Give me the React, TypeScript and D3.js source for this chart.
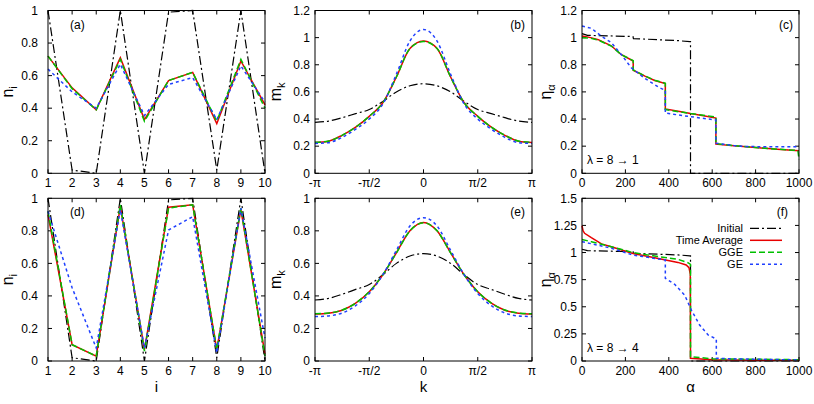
import React, { useEffect, useRef } from "react";
import * as d3 from "d3";

// site occupations n_i (panels a, d)
const sites = [1, 2, 3, 4, 5, 6, 7, 8, 9, 10];
const siteInitial = [1.0, 0.02, 0.0, 1.0, 0.0, 0.99, 1.0, 0.02, 1.0, 0.0];
const siteTimeAvg1 = [0.72, 0.525, 0.39, 0.71, 0.33, 0.57, 0.62, 0.305, 0.69, 0.42];
const siteGGE1 = [0.72, 0.52, 0.39, 0.7, 0.32, 0.57, 0.62, 0.32, 0.7, 0.4];
const siteGE1 = [0.64, 0.5, 0.4, 0.67, 0.355, 0.546, 0.588, 0.33, 0.66, 0.437];
const siteTimeAvg4 = [0.9, 0.1, 0.03, 0.95, 0.07, 0.945, 0.96, 0.07, 0.93, 0.04];
const siteGGE4 = [0.92, 0.1, 0.03, 0.96, 0.06, 0.94, 0.96, 0.07, 0.94, 0.03];
const siteGE4 = [0.92, 0.45, 0.08, 0.93, 0.08, 0.805, 0.887, 0.05, 0.94, 0.14];

// momentum distribution m_k, k in units of pi (panels b, e)
const kPi = [-1, -0.875, -0.75, -0.625, -0.5, -0.375, -0.25, -0.125, 0, 0.125, 0.25, 0.375, 0.5, 0.625, 0.75, 0.875, 1];
const momInitial = [0.375, 0.385, 0.41, 0.44, 0.47, 0.53, 0.6, 0.645, 0.66, 0.645, 0.6, 0.53, 0.47, 0.44, 0.41, 0.385, 0.375];
const momTimeAvg1 = [0.227, 0.237, 0.28, 0.34, 0.42, 0.52, 0.71, 0.92, 0.975, 0.92, 0.71, 0.52, 0.42, 0.34, 0.28, 0.237, 0.227];
const momGGE1 = [0.228, 0.238, 0.28, 0.34, 0.42, 0.52, 0.71, 0.92, 0.972, 0.92, 0.71, 0.52, 0.42, 0.34, 0.28, 0.238, 0.228];
const momGE1 = [0.22, 0.226, 0.265, 0.325, 0.4, 0.51, 0.73, 0.975, 1.06, 0.975, 0.73, 0.51, 0.4, 0.325, 0.265, 0.226, 0.22];
const momTimeAvg4 = [0.289, 0.294, 0.312, 0.355, 0.425, 0.53, 0.665, 0.8, 0.852, 0.8, 0.665, 0.53, 0.425, 0.355, 0.312, 0.294, 0.289];
const momGGE4 = [0.29, 0.295, 0.313, 0.356, 0.426, 0.53, 0.664, 0.8, 0.85, 0.8, 0.664, 0.53, 0.426, 0.356, 0.313, 0.295, 0.29];
const momGE4 = [0.273, 0.277, 0.295, 0.34, 0.415, 0.53, 0.68, 0.83, 0.881, 0.83, 0.68, 0.53, 0.415, 0.34, 0.295, 0.277, 0.273];

// natural orbital occupations eta_alpha (panels c, f), [alpha, eta]
const natInitial = [[0, 1.03], [25, 1.017], [235, 1.008], [237, 0.993], [442, 0.978], [497, 0.97], [500, 0.97], [500, 0], [1000, 0]];
const natTimeAvg1 = [[0, 1.012], [40, 1.0], [75, 0.985], [135, 0.94], [180, 0.876], [236, 0.828], [236, 0.76], [290, 0.716], [335, 0.684], [384, 0.661], [384, 0.474], [450, 0.455], [500, 0.44], [560, 0.425], [617, 0.407], [617, 0.215], [700, 0.203], [800, 0.19], [900, 0.178], [1000, 0.167]];
const natGGE1 = [[0, 1.0], [40, 0.995], [75, 0.982], [135, 0.938], [180, 0.876], [236, 0.83], [236, 0.762], [290, 0.718], [335, 0.686], [384, 0.664], [384, 0.47], [450, 0.453], [500, 0.44], [560, 0.428], [617, 0.415], [617, 0.218], [700, 0.204], [800, 0.19], [900, 0.178], [995, 0.168], [1000, 0.1]];
const natGE1 = [[0, 1.086], [43, 1.069], [90, 1.01], [135, 0.963], [181, 0.876], [227, 0.778], [289, 0.7], [358, 0.63], [384, 0.612], [384, 0.444], [488, 0.42], [617, 0.393], [617, 0.222], [700, 0.205], [750, 0.197], [1000, 0.195]];
const natTimeAvg4 = [[0, 1.247], [5, 1.2], [12, 1.177], [43, 1.137], [90, 1.08], [135, 1.054], [235, 0.992], [335, 0.952], [442, 0.909], [480, 0.885], [493, 0.86], [499, 0.8], [500, 0.025], [600, 0.012], [800, 0.008], [1000, 0.006]];
const natGGE4 = [[0, 1.12], [43, 1.1], [135, 1.054], [235, 1.0], [335, 0.968], [442, 0.937], [488, 0.906], [500, 0.89], [500, 0.04], [600, 0.02], [1000, 0.012]];
const natGE4 = [[0, 1.1], [135, 1.04], [235, 0.977], [335, 0.946], [384, 0.931], [384, 0.762], [427, 0.707], [473, 0.608], [504, 0.47], [542, 0.332], [581, 0.24], [619, 0.203], [619, 0.025], [700, 0.02], [1000, 0.01]];

const legendNames = ["Initial", "Time Average", "GGE", "GE"];

const W = 814, H = 404;
const cols = [[48, 265], [315, 532], [582, 799]];
const rows = [[10.5, 173.3], [198.3, 361]];
const font = "'Liberation Sans', Arial, Helvetica, sans-serif";

const styles = [
  { stroke: "#000000", dash: "9,3,2,3", width: 1.2 },
  { stroke: "#e80000", dash: null, width: 1.5 },
  { stroke: "#00c000", dash: "6,3", width: 1.5 },
  { stroke: "#2040ff", dash: "3,3", width: 1.5 },
];

const zipPts = (xs, ys) => xs.map((x, i) => [x, ys[i]]);

const App = () => {
  const svgRef = useRef(null);

  useEffect(() => {
    const svg = d3.select(svgRef.current);
    svg.selectAll("*").remove();

    const siteTicks = sites;
    const piTicks = [-1, -0.5, 0, 0.5, 1];
    const piLabels = ["-π", "-π/2", "0", "π/2", "π"];
    const alphaTicks = [0, 200, 400, 600, 800, 1000];
    const y10 = [0, 0.2, 0.4, 0.6, 0.8, 1];
    const y12 = [0, 0.2, 0.4, 0.6, 0.8, 1, 1.2];
    const y15 = [0, 0.25, 0.5, 0.75, 1, 1.25, 1.5];

    const panels = [
      { col: 0, row: 0, xd: [1, 10], yd: [0, 1], xt: siteTicks, xl: siteTicks.map(String), yt: y10, curve: d3.curveLinear,
        series: [siteInitial, siteTimeAvg1, siteGGE1, siteGE1].map((s) => zipPts(sites, s)), tag: "(a)" },
      { col: 1, row: 0, xd: [-1, 1], yd: [0, 1.2], xt: piTicks, xl: piLabels, yt: y12, curve: d3.curveMonotoneX,
        series: [momInitial, momTimeAvg1, momGGE1, momGE1].map((s) => zipPts(kPi, s)), tag: "(b)" },
      { col: 2, row: 0, xd: [0, 1000], yd: [0, 1.2], xt: alphaTicks, xl: alphaTicks.map(String), yt: y12, curve: d3.curveLinear,
        series: [natInitial, natTimeAvg1, natGGE1, natGE1], tag: "(c)", lambda: "λ = 8 → 1" },
      { col: 0, row: 1, xd: [1, 10], yd: [0, 1], xt: siteTicks, xl: siteTicks.map(String), yt: y10, curve: d3.curveLinear,
        series: [siteInitial, siteTimeAvg4, siteGGE4, siteGE4].map((s) => zipPts(sites, s)), tag: "(d)" },
      { col: 1, row: 1, xd: [-1, 1], yd: [0, 1], xt: piTicks, xl: piLabels, yt: y10, curve: d3.curveMonotoneX,
        series: [momInitial, momTimeAvg4, momGGE4, momGE4].map((s) => zipPts(kPi, s)), tag: "(e)" },
      { col: 2, row: 1, xd: [0, 1000], yd: [0, 1.5], xt: alphaTicks, xl: alphaTicks.map(String), yt: y15, curve: d3.curveLinear,
        series: [natInitial, natTimeAvg4, natGGE4, natGE4], tag: "(f)", lambda: "λ = 8 → 4", legend: true },
    ];

    const yNames = [["n", "i"], ["m", "k"], ["η", "α"]];
    const yNameX = [13, 281, 551];
    const xNames = ["i", "k", "α"];
    const tickGap = [10, 5, 5];

    panels.forEach((p) => {
      const [x0, x1] = cols[p.col];
      const [y0, y1] = rows[p.row];
      const x = d3.scaleLinear().domain(p.xd).range([x0, x1]);
      const y = d3.scaleLinear().domain(p.yd).range([y1, y0]);
      const g = svg.append("g");

      // inward ticks on all four sides
      p.xt.forEach((t, i) => {
        g.append("line").attr("x1", x(t)).attr("x2", x(t)).attr("y1", y1).attr("y2", y1 - 4).attr("stroke", "#000");
        g.append("line").attr("x1", x(t)).attr("x2", x(t)).attr("y1", y0).attr("y2", y0 + 4).attr("stroke", "#000");
        g.append("text").attr("x", x(t)).attr("y", y1 + 13.5).attr("text-anchor", "middle")
          .style("font-family", font).style("font-size", "12px").text(p.xl[i]);
      });
      p.yt.forEach((t) => {
        g.append("line").attr("x1", x0).attr("x2", x0 + 4).attr("y1", y(t)).attr("y2", y(t)).attr("stroke", "#000");
        g.append("line").attr("x1", x1).attr("x2", x1 - 4).attr("y1", y(t)).attr("y2", y(t)).attr("stroke", "#000");
        g.append("text").attr("x", x0 - tickGap[p.col]).attr("y", y(t) + 4.2).attr("text-anchor", "end")
          .style("font-family", font).style("font-size", "12px").text(String(t));
      });

      const line = d3.line().x((d) => x(d[0])).y((d) => y(d[1])).curve(p.curve);
      p.series.forEach((s, i) => {
        const st = styles[i];
        g.append("path").attr("d", line(s)).attr("fill", "none").attr("stroke", st.stroke)
          .attr("stroke-width", st.width).attr("stroke-dasharray", st.dash);
      });

      g.append("rect").attr("x", x0).attr("y", y0).attr("width", x1 - x0).attr("height", y1 - y0)
        .attr("fill", "none").attr("stroke", "#000").attr("stroke-width", 1);

      // panel tag
      const tagLeft = p.col === 0;
      g.append("text").attr("x", tagLeft ? x0 + 22 : p.col === 1 ? x1 - 7 : p.row === 0 ? x1 - 6 : x1 - 11)
        .attr("y", y0 + 18).attr("text-anchor", tagLeft ? "start" : "end")
        .style("font-family", font).style("font-size", "12px").text(p.tag);

      if (p.lambda) {
        g.append("text").attr("x", x0 + 5).attr("y", y1 - 9.5)
          .style("font-family", font).style("font-size", "12px").text(p.lambda);
      }

      // y axis title
      const yt = g.append("text").attr("transform", `translate(${yNameX[p.col]},${(y0 + y1) / 2}) rotate(-90)`)
        .attr("text-anchor", "middle").style("font-family", font).style("font-size", "16px");
      yt.append("tspan").text(yNames[p.col][0]);
      yt.append("tspan").attr("dy", 4).style("font-size", "11px").text(yNames[p.col][1]);

      if (p.row === 1) {
        g.append("text").attr("x", (x0 + x1) / 2).attr("y", 392).attr("text-anchor", "middle")
          .style("font-family", font).style("font-size", "15px").text(xNames[p.col]);
      }

      if (p.legend) {
        legendNames.forEach((name, i) => {
          const ly = y0 + 30 + i * 12;
          g.append("text").attr("x", 743).attr("y", ly + 3.8).attr("text-anchor", "end")
            .style("font-family", font).style("font-size", "11px").text(name);
          const st = styles[i];
          g.append("line").attr("x1", 750).attr("x2", 782).attr("y1", ly).attr("y2", ly)
            .attr("stroke", st.stroke).attr("stroke-width", st.width).attr("stroke-dasharray", st.dash);
        });
      }
    });
  }, []);

  return (
    <svg ref={svgRef} width={W} height={H}
      style={{ position: "absolute", left: 0, top: 0, background: "#fff" }} />
  );
};

export default App;
